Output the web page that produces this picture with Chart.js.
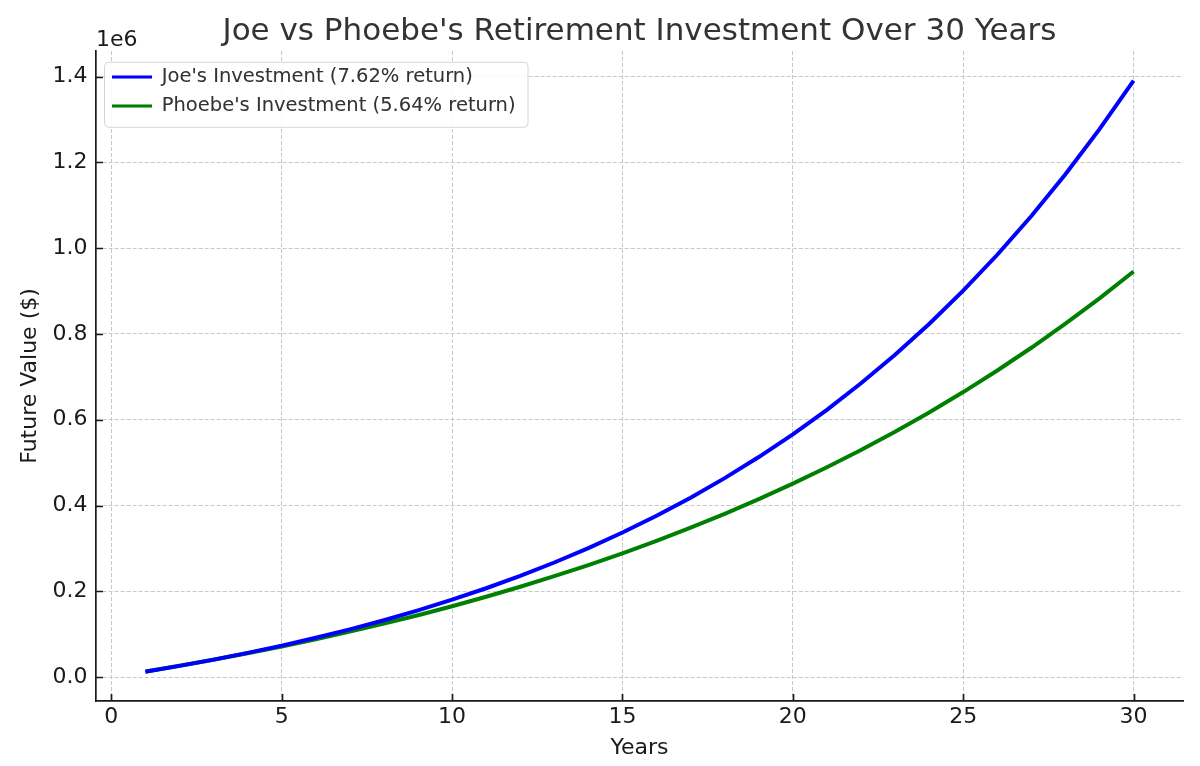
<!DOCTYPE html>
<html lang="en">
<head>
    <meta charset="utf-8">
    <title>Joe vs Phoebe's Retirement Investment</title>
    <script src="https://cdn.jsdelivr.net/npm/chart.js@4.4.1/dist/chart.umd.min.js"></script>
    <style>
        html, body {
            margin: 0;
            padding: 0;
            background: #ffffff;
        }
    </style>
</head>
<body>
<canvas id="myChart" width="1200" height="766"></canvas>

<script>
    // values
    var years = [1, 2, 3, 4, 5, 6, 7, 8, 9, 10, 11, 12, 13, 14, 15,
                 16, 17, 18, 19, 20, 21, 22, 23, 24, 25, 26, 27, 28, 29, 30];
    var joeValues = [12510, 26000, 40560, 56270, 73220, 91510, 111250, 132540, 155520, 180310,
                     207060, 235920, 267070, 300670, 336930, 376060, 418270, 463820, 512970, 565990,
                     623210, 684950, 751570, 823450, 901010, 984700, 1075000, 1172420, 1277550, 1391000];
    var phoebeValues = [12700, 26200, 40400, 55400, 71300, 88100, 105800, 124500, 144200, 165100,
                        187200, 210500, 235100, 261100, 288500, 317500, 348200, 380600, 414800, 450900,
                        489100, 529400, 572000, 617000, 664500, 714800, 767800, 823900, 883100, 945600];
    var seriesNames = ["Joe's Investment (7.62% return)", "Phoebe's Investment (5.64% return)"];
    var xTicks = [0, 5, 10, 15, 20, 25, 30];
    var yTicks = [0, 200000, 400000, 600000, 800000, 1000000, 1200000, 1400000];
    var yTickLabels = ['0.0', '0.2', '0.4', '0.6', '0.8', '1.0', '1.2', '1.4'];

    var FONT = 'DejaVu Sans';
    var INK = '#1a1a1a';

    function points(vals) {
        return vals.map(function (v, i) { return {x: years[i], y: v}; });
    }

    // matplotlib look: inward ticks, framed legend, offset text
    var mplBits = {
        id: 'mplBits',
        afterLayout: function (chart) {
            var lg = chart.legend;
            lg.left = 102.5;
            lg.top = 57.75;
            lg.right = chart.chartArea.right;
            lg.bottom = chart.chartArea.bottom;
        },
        afterDraw: function (chart) {
            var ctx = chart.ctx;
            var area = chart.chartArea;
            var xs = chart.scales.x, ys = chart.scales.y;

            ctx.save();
            ctx.strokeStyle = INK;
            ctx.lineWidth = 1.7;
            ctx.beginPath();
            xTicks.forEach(function (t) {
                var px = Math.round(xs.getPixelForValue(t)) + 0.5;
                ctx.moveTo(px, area.bottom);
                ctx.lineTo(px, area.bottom - 7);
            });
            yTicks.forEach(function (t) {
                var py = Math.round(ys.getPixelForValue(t)) + 0.5;
                ctx.moveTo(area.left, py);
                ctx.lineTo(area.left + 7, py);
            });
            ctx.stroke();

            // legend frame, then legend again on top of it
            var lg = chart.legend;
            var pad = lg.options.labels.padding;
            var itemH = lg.options.labels.font.size;
            var maxW = 0;
            lg.legendHitBoxes.forEach(function (h) { maxW = Math.max(maxW, h.width); });
            var n = lg.legendHitBoxes.length;
            var fx = lg.left + pad - 8, fy = lg.top + pad - 5.5;
            var fw = maxW + 20, fh = n * itemH + (n - 1) * pad + 16.5;
            ctx.beginPath();
            ctx.roundRect(fx + 0.5, fy + 0.5, fw, fh, 4);
            ctx.fillStyle = 'rgba(255,255,255,0.85)';
            ctx.fill();
            ctx.strokeStyle = '#d4d4d4';
            ctx.lineWidth = 1;
            ctx.stroke();
            ctx.restore();
            lg.draw();

            ctx.save();
            ctx.font = '22px "' + FONT + '"';
            ctx.fillStyle = INK;
            ctx.textAlign = 'left';
            ctx.textBaseline = 'alphabetic';
            ctx.fillText('1e6', area.left, 46);
            ctx.restore();
        }
    };

    var ctx = document.getElementById('myChart').getContext('2d');
    var chart = new Chart(ctx, {
        type: 'line',
        data: {
            datasets: [{
                label: seriesNames[0],
                data: points(joeValues),
                borderColor: '#0000ff',
                backgroundColor: '#0000ff',
                borderWidth: 4,
                pointRadius: 0,
                tension: 0,
                fill: false
            }, {
                label: seriesNames[1],
                data: points(phoebeValues),
                borderColor: '#008000',
                backgroundColor: '#008000',
                borderWidth: 4,
                pointRadius: 0,
                tension: 0,
                fill: false
            }]
        },
        options: {
            responsive: false,
            animation: false,
            devicePixelRatio: 1,
            layout: {padding: {left: 0, right: 17, top: 0, bottom: 0}},
            scales: {
                x: {
                    type: 'linear',
                    min: -0.45,
                    max: 31.45,
                    afterBuildTicks: function (scale) {
                        scale.ticks = xTicks.map(function (v) { return {value: v}; });
                    },
                    afterFit: function (scale) { scale.height = 65; },
                    ticks: {
                        color: INK,
                        padding: 3,
                        font: {family: FONT, size: 22},
                        callback: function (v) { return String(v); }
                    },
                    grid: {color: '#c8c8c8', lineWidth: 1, drawTicks: false},
                    border: {display: true, color: INK, width: 1.7, dash: [4, 2]},
                    title: {
                        display: true,
                        text: 'Years',
                        color: INK,
                        font: {family: FONT, size: 22},
                        padding: {top: 0, bottom: 5}
                    }
                },
                y: {
                    type: 'linear',
                    min: -55900,
                    max: 1459900,
                    afterBuildTicks: function (scale) {
                        scale.ticks = yTicks.map(function (v) { return {value: v}; });
                    },
                    afterFit: function (scale) { scale.width = 96; },
                    ticks: {
                        color: INK,
                        padding: 8.6,
                        font: {family: FONT, size: 22},
                        callback: function (v, i) { return yTickLabels[i]; }
                    },
                    grid: {color: '#c8c8c8', lineWidth: 1, drawTicks: false},
                    border: {display: true, color: INK, width: 1.7, dash: [4, 2]},
                    title: {
                        display: true,
                        text: 'Future Value ($)',
                        color: INK,
                        font: {family: FONT, size: 22},
                        padding: {top: 16.8, bottom: 0}
                    }
                }
            },
            plugins: {
                title: {
                    display: true,
                    fullSize: false,
                    text: "Joe vs Phoebe's Retirement Investment Over 30 Years",
                    color: '#333333',
                    font: {family: FONT, size: 31, weight: 'normal'},
                    padding: {top: 13.4, bottom: 0.4}
                },
                legend: {
                    position: 'chartArea',
                    align: 'start',
                    labels: {
                        color: '#333333',
                        font: {family: FONT, size: 19.5},
                        boxWidth: 40,
                        boxHeight: 3,
                        padding: 9.5,
                        generateLabels: function (chart) {
                            var items = Chart.defaults.plugins.legend.labels.generateLabels(chart);
                            items.forEach(function (it) {
                                it.fillStyle = it.strokeStyle;
                                it.lineWidth = 0;
                            });
                            return items;
                        }
                    }
                },
                tooltip: {enabled: false}
            }
        },
        plugins: [mplBits]
    });
</script>
</body>
</html>
